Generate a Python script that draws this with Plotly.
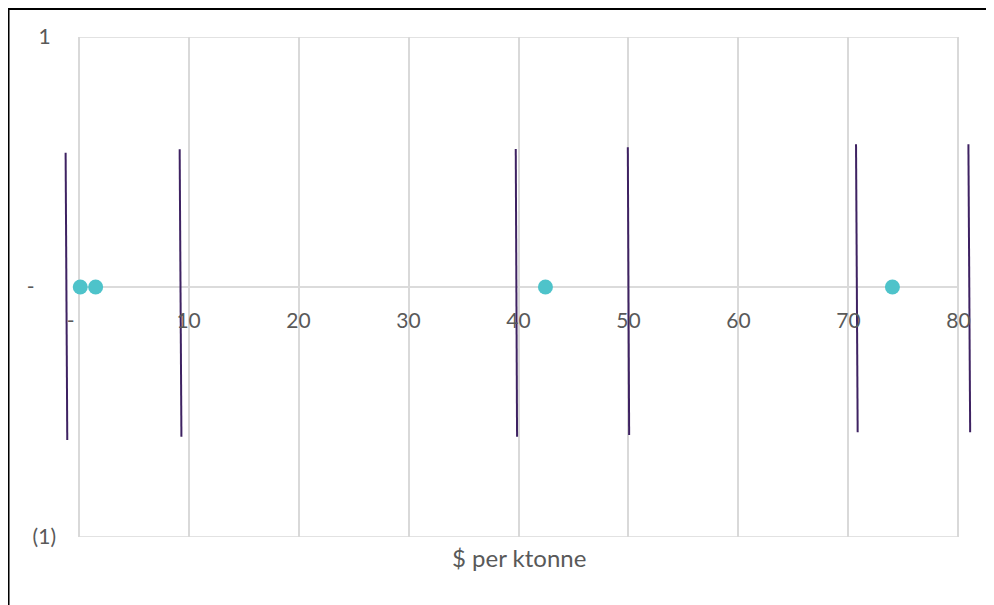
import plotly.graph_objects as go

# ---- data ----
x_tick_vals = [0, 10, 20, 30, 40, 50, 60, 70, 80]
x_tick_text = ["-\u00a0\u00a0\u00a0", "10", "20", "30", "40", "50", "60", "70", "80"]
y_tick_vals = [-1, 0, 1]
y_tick_text = ["(1)", "-\u00a0\u00a0\u00a0\u00a0", "1\u00a0"]

dot_x = [0.15, 1.55, 42.45, 74.0]
dot_y = [0, 0, 0, 0]

bar_x_top = [-1.18, 9.19, 39.75, 49.94, 70.69, 80.91]
bar_x_bot = [-1.03, 9.35, 39.87, 50.06, 70.84, 81.07]
bar_y_top = [0.537, 0.551, 0.552, 0.559, 0.571, 0.571]
bar_y_bot = [-0.612, -0.599, -0.599, -0.592, -0.581, -0.581]

x_title = "$ per ktonne"

# ---- build figure ----
lx, ly = [], []
for xt, xb, yt, yb in zip(bar_x_top, bar_x_bot, bar_y_top, bar_y_bot):
    lx += [xt, xb, None]
    ly += [yt, yb, None]

fig = go.Figure()
fig.add_trace(go.Scatter(x=lx, y=ly, mode="lines",
                         line=dict(color="#3E2262", width=2),
                         hoverinfo="skip", showlegend=False))
fig.add_trace(go.Scatter(x=dot_x, y=dot_y, mode="markers",
                         marker=dict(color="#4EC3CA", size=15),
                         cliponaxis=False, showlegend=False))

xmin, xmax = min(x_tick_vals), max(x_tick_vals)
grid_col = "#D9D9D9"
shapes = []
for yv in y_tick_vals:
    shapes.append(dict(type="line", xref="x", yref="y", x0=xmin, x1=xmax, y0=yv, y1=yv,
                       line=dict(color=grid_col if yv != 0 else "#CFCFCF", width=1.5),
                       layer="below"))

# page offset of the figure (body margin)
OFF = 8
FW, FH = 994, 605
# target plot area in page pixels
PL, PR, PT, PB = 61.42, 975.58, 37, 537
L, R, T, B = PL - OFF, FW - (PR - OFF), PT - OFF, FH - (PB - OFF)
W, H = FW - L - R, FH - T - B
def px(xp):
    return (xp - OFF - L) / W
def py(yp):
    return (FH - B - (yp - OFF)) / H

# outer frame (top and left edges visible)
shapes.append(dict(type="line", xref="paper", yref="paper", x0=px(8), x1=px(1010),
                   y0=py(9), y1=py(9), line=dict(color="black", width=2)))
shapes.append(dict(type="line", xref="paper", yref="paper", x0=px(9), x1=px(9),
                   y0=py(8), y1=py(620), line=dict(color="black", width=2)))

font_family = "Lato, 'Open Sans', sans-serif"
fig.update_layout(
    width=FW, height=FH,
    margin=dict(l=L, r=R, t=T, b=B, autoexpand=False),
    paper_bgcolor="white", plot_bgcolor="white",
    font=dict(family=font_family, size=21, color="#595959"),
    shapes=shapes,
    xaxis=dict(range=[-1.6, 81.6], tickmode="array", tickvals=x_tick_vals,
               ticktext=x_tick_text, showgrid=True, gridcolor=grid_col, gridwidth=1.5,
               zeroline=False, showline=False, ticks="", anchor="free", position=0.5,
               ticklabelstandoff=19, automargin=False),
    yaxis=dict(range=[-1, 1], tickmode="array", tickvals=y_tick_vals,
               ticktext=y_tick_text, showgrid=False, zeroline=False, showline=False,
               ticks="", ticklabelstandoff=4, automargin=False),
    annotations=[dict(text=x_title, xref="x", yref="paper", x=(xmin + xmax) / 2,
                      y=py(557), showarrow=False, xanchor="center", yanchor="middle",
                      font=dict(size=24, color="#595959"))],
)

fig.write_html("out.html")
